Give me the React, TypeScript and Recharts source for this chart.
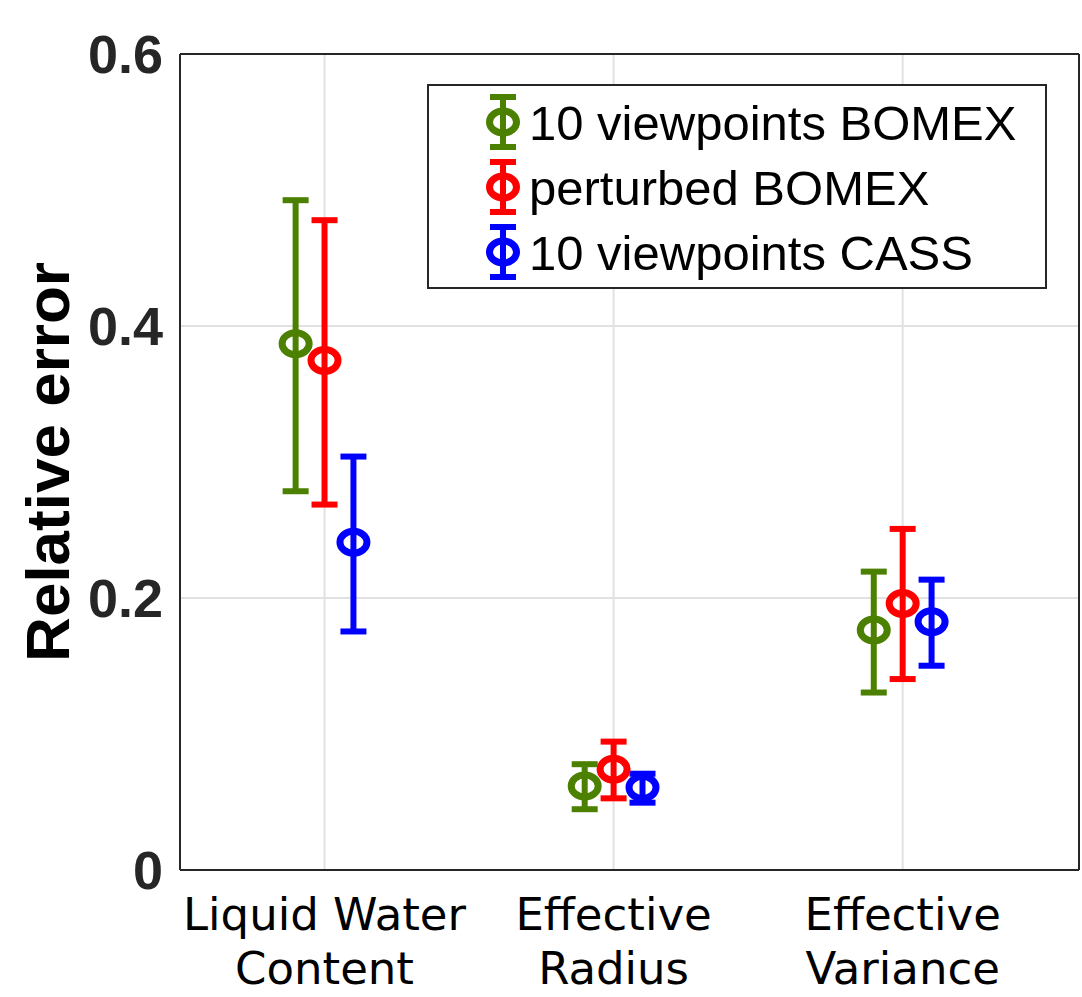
import React from 'react';
import { ScatterChart, Scatter, XAxis, YAxis, CartesianGrid, ErrorBar, Legend } from 'recharts';

// categories on the x axis (two-line tick labels)
const CATEGORIES = [
  ['Liquid Water', 'Content'],
  ['Effective', 'Radius'],
  ['Effective', 'Variance'],
];
const CATEGORY_POS = [1, 2, 3];
const Y_TICKS = [0, 0.2, 0.4, 0.6];

const SERIES_NAMES = ['10 viewpoints BOMEX', 'perturbed BOMEX', '10 viewpoints CASS'];
const SERIES_COLORS = ['#4c8000', '#ff0000', '#0000ff'];
const SERIES_SHIFT = [-0.1, 0, 0.1];

// mean relative error and lower/upper ends of each bar
const BOMEX10_MEAN = [0.387, 0.0618, 0.1764];
const BOMEX10_LOW = [0.2785, 0.0447, 0.1305];
const BOMEX10_HIGH = [0.4925, 0.0778, 0.2194];

const PERTURBED_MEAN = [0.3747, 0.0741, 0.196];
const PERTURBED_LOW = [0.2687, 0.0527, 0.1404];
const PERTURBED_HIGH = [0.4778, 0.0944, 0.2508];

const CASS10_MEAN = [0.241, 0.0607, 0.1826];
const CASS10_LOW = [0.1754, 0.0495, 0.1502];
const CASS10_HIGH = [0.304, 0.0708, 0.2135];

const MEANS = [BOMEX10_MEAN, PERTURBED_MEAN, CASS10_MEAN];
const LOWS = [BOMEX10_LOW, PERTURBED_LOW, CASS10_LOW];
const HIGHS = [BOMEX10_HIGH, PERTURBED_HIGH, CASS10_HIGH];

const X_DOMAIN: [number, number] = [0.5, 3.61];
const Y_DOMAIN: [number, number] = [0, 0.6];
const AXIS = '#262626';

const seriesData = MEANS.map((mean, i) =>
  CATEGORY_POS.map((c, j) => ({
    x: c + SERIES_SHIFT[i],
    y: mean[j],
    err: [mean[j] - LOWS[i][j], HIGHS[i][j] - mean[j]],
  }))
);

const XTick = (props: any) => {
  const { x, y, payload } = props;
  const lines = CATEGORIES[CATEGORY_POS.indexOf(payload.value)] || [];
  return (
    <text x={x} y={y} textAnchor="middle" fontFamily="DejaVu Sans" fontSize={45} fill="#000">
      {lines.map((l, i) => (
        <tspan key={i} x={x} dy={i === 0 ? 60 : 54}>{l}</tspan>
      ))}
    </text>
  );
};

const YTick = (props: any) => {
  const { x, y, payload } = props;
  return (
    <text x={x - 17} y={y} dy={19} textAnchor="end" fontFamily="Liberation Sans, Arial" fontWeight="bold" fontSize={54} fill={AXIS}>
      {String(payload.value)}
    </text>
  );
};

const marker = (color: string) => (p: any) => (
  <ellipse cx={p.cx} cy={p.cy} rx={13.5} ry={11} fill="none" stroke={color} strokeWidth={7} />
);

const LegendBox = () => (
  <svg width={620} height={205} style={{ display: 'block' }}>
    <rect x={1} y={1} width={618} height={203} fill="#fff" stroke={AXIS} strokeWidth={2} />
    {SERIES_NAMES.map((name, i) => {
      const cy = 38 + i * 65;
      const c = SERIES_COLORS[i];
      return (
        <g key={name}>
          <line x1={76} x2={76} y1={cy - 28} y2={cy + 28} stroke={c} strokeWidth={6} />
          <line x1={63} x2={89} y1={cy - 25} y2={cy - 25} stroke={c} strokeWidth={6} />
          <line x1={63} x2={89} y1={cy + 25} y2={cy + 25} stroke={c} strokeWidth={6} />
          <ellipse cx={76} cy={cy} rx={13.5} ry={11} fill="none" stroke={c} strokeWidth={7} />
          <text x={102} y={cy + 18} fontFamily="Liberation Sans, Arial" fontSize={49} fill="#000">{name}</text>
        </g>
      );
    })}
  </svg>
);

export default function App() {
  const line = { stroke: AXIS, strokeWidth: 2 };
  return (
    <div style={{ position: 'absolute', left: 0, top: 0, background: '#fff' }}>
      <ScatterChart width={1082} height={997} margin={{ top: 54, right: 3, bottom: 27, left: 30 }}>
        <CartesianGrid stroke="#e1e1e1" strokeWidth={2} />
        <XAxis dataKey="x" type="number" domain={X_DOMAIN} allowDataOverflow ticks={CATEGORY_POS} interval={0}
          height={100} tickSize={0} tickMargin={0} tickLine={false} axisLine={line} tick={<XTick />} />
        <YAxis dataKey="y" type="number" domain={Y_DOMAIN} allowDataOverflow ticks={Y_TICKS} interval={0}
          width={150} tickSize={0} tickMargin={0} tickLine={false} axisLine={line} tick={<YTick />}
          label={{
            content: () => (
              <text x={69} y={462} transform="rotate(-90, 69, 462)" textAnchor="middle"
                fontFamily="Liberation Sans, Arial" fontWeight="bold" fontSize={62} fill="#000">
                Relative error
              </text>
            ),
          }} />
        {/* inward tick marks and box */}
        <XAxis xAxisId="bm" orientation="bottom" mirror type="number" domain={X_DOMAIN} allowDataOverflow
          ticks={CATEGORY_POS} interval={0} tick={false} tickSize={12} axisLine={false} tickLine={line} />
        <XAxis xAxisId="top" orientation="top" mirror type="number" domain={X_DOMAIN} allowDataOverflow
          ticks={CATEGORY_POS} interval={0} tick={false} tickSize={12} axisLine={line} tickLine={line} />
        <YAxis yAxisId="lm" orientation="left" mirror type="number" domain={Y_DOMAIN} allowDataOverflow
          ticks={Y_TICKS} interval={0} tick={false} tickSize={11} axisLine={false} tickLine={line} />
        <YAxis yAxisId="right" orientation="right" mirror type="number" domain={Y_DOMAIN} allowDataOverflow
          ticks={Y_TICKS} interval={0} tick={false} tickSize={11} axisLine={line} tickLine={line} />
        {seriesData.map((data, i) => (
          <Scatter key={SERIES_NAMES[i]} name={SERIES_NAMES[i]} data={data} fill={SERIES_COLORS[i]}
            shape={marker(SERIES_COLORS[i])} isAnimationActive={false}>
            <ErrorBar dataKey="err" direction="y" width={13} stroke={SERIES_COLORS[i]} strokeWidth={6} isAnimationActive={false} />
          </Scatter>
        ))}
        <Legend layout="vertical" align="center" verticalAlign="middle"
          wrapperStyle={{ left: 427, top: 84, width: 620, height: 205 }} content={() => <LegendBox />} />
      </ScatterChart>
    </div>
  );
}
